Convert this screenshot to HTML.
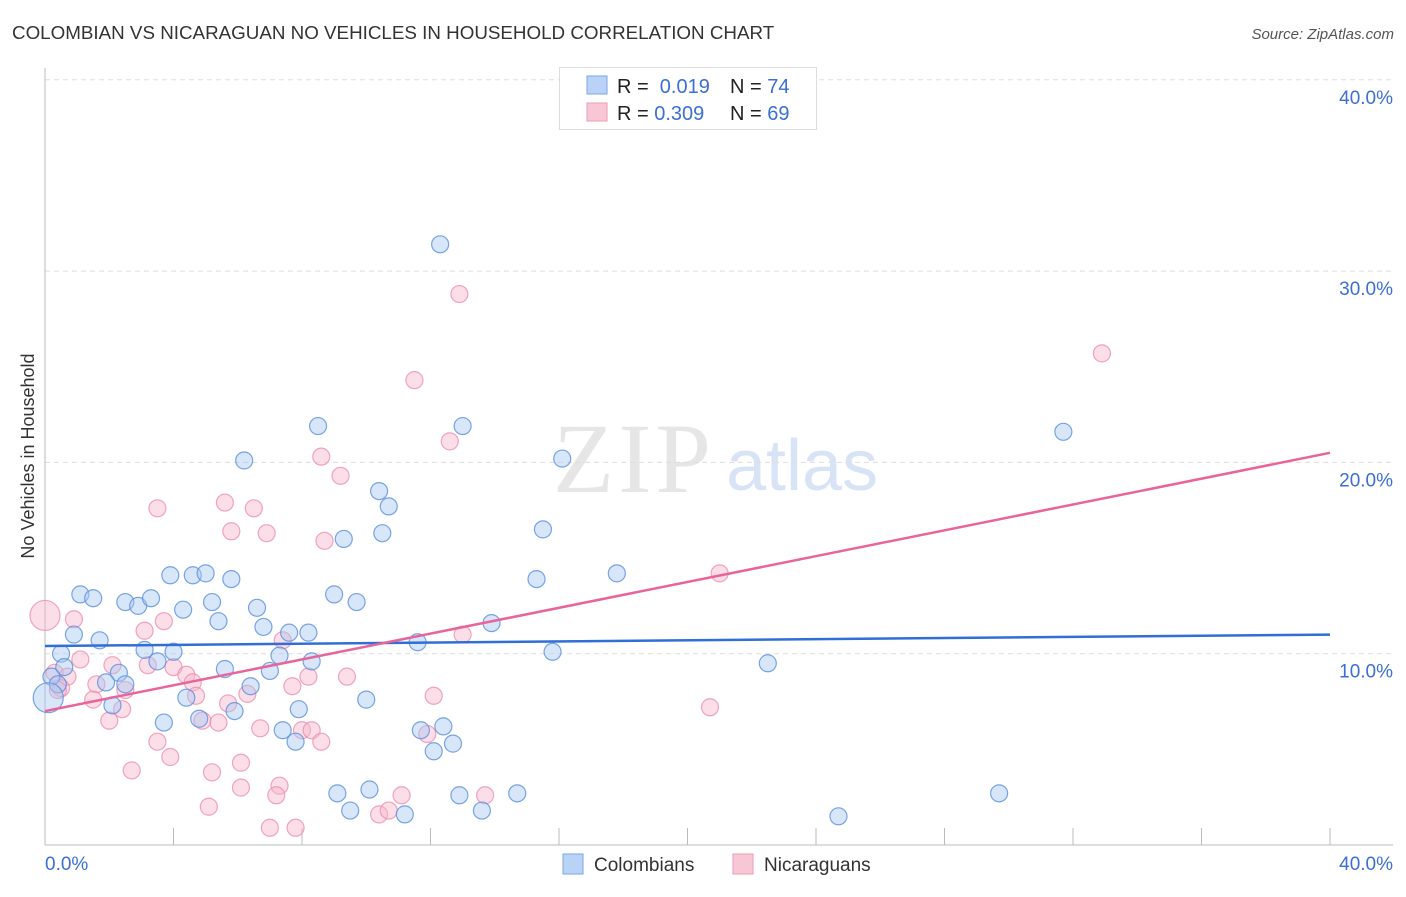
<!DOCTYPE html>
<html><head><meta charset="utf-8">
<style>
body{margin:0;background:#fff;font-family:"Liberation Sans",sans-serif;}
svg text{font-family:"Liberation Sans",sans-serif;}
</style></head>
<body>
<svg id="chart" width="1406" height="892" viewBox="0 0 1406 892">
<text x="12" y="39" font-size="18.8" fill="#333">COLOMBIAN VS NICARAGUAN NO VEHICLES IN HOUSEHOLD CORRELATION CHART</text>
<text x="1394" y="39" font-size="15" fill="#555" font-style="italic" text-anchor="end">Source: ZipAtlas.com</text>
<g>
<text x="634" y="492" font-size="100" fill="#e6e6e6" style="font-family:'Liberation Serif',serif" text-anchor="middle" letter-spacing="4">ZIP</text>
<text x="802" y="490" font-size="72" fill="#d8e4f6" text-anchor="middle">atlas</text>
</g>
<g id="grid"></g>
<g id="axes"></g>
<g id="marks"></g>
<text transform="translate(34,456) rotate(-90)" font-size="18" fill="#333" text-anchor="middle">No Vehicles in Household</text>
<g>
<rect x="559.5" y="67.5" width="257" height="62" fill="#fff" stroke="#ddd"/>
<rect x="587" y="76" width="20" height="18" fill="#b9d2f5" stroke="#7aa6e6"/>
<rect x="587" y="103" width="20" height="18" fill="#f9c6d5" stroke="#ee9ab5"/>
<text x="617" y="93" font-size="20" fill="#222">R = <tspan fill="#3b6fd4">&#160;0.019</tspan><tspan x="730">N = </tspan><tspan fill="#3b6fd4">74</tspan></text>
<text x="617" y="120" font-size="20" fill="#222">R = <tspan fill="#3b6fd4">0.309</tspan><tspan x="730">N = </tspan><tspan fill="#3b6fd4">69</tspan></text>
</g>
<g>
<rect x="563" y="854" width="20" height="20" fill="#b9d2f5" stroke="#7aa6e6"/>
<text x="594" y="871" font-size="19" fill="#333">Colombians</text>
<rect x="733" y="854" width="20" height="20" fill="#f9c6d5" stroke="#ee9ab5"/>
<text x="764" y="871" font-size="19" fill="#333">Nicaraguans</text>
</g>
</svg>
<script>
const yTicks=[10,20,30,40];
const yTickLabels=["10.0%","20.0%","30.0%","40.0%"];
const xTickLabels=["0.0%","40.0%"];
const blueX=[12.3,8.5,13.0,31.7,6.2,16.1,10.4,10.7,15.5,9.3,10.5,3.9,4.6,5.0,5.8,15.3,17.8,1.1,1.5,2.5,2.9,3.3,4.3,5.2,6.6,9.0,9.7,5.4,6.8,13.9,7.6,8.2,0.9,1.7,3.1,4.0,11.6,15.8,0.5,3.5,8.3,7.3,0.6,2.3,5.6,7.0,22.5,0.2,0.4,1.9,2.5,6.4,4.4,10.0,2.1,5.9,7.9,3.7,4.8,7.4,12.4,11.7,7.8,12.7,12.1,9.1,10.1,12.9,14.7,29.7,9.5,11.2,13.6,24.7,0.1];
const blueY=[31.4,21.9,21.9,21.6,20.1,20.2,18.5,17.7,16.5,16.0,16.3,14.1,14.1,14.2,13.9,13.9,14.2,13.1,12.9,12.7,12.5,12.9,12.3,12.7,12.4,13.1,12.7,11.7,11.4,11.6,11.1,11.1,11.0,10.7,10.2,10.1,10.6,10.1,10.0,9.6,9.6,9.9,9.3,9.0,9.2,9.1,9.5,8.8,8.4,8.5,8.4,8.3,7.7,7.6,7.3,7.0,7.1,6.4,6.6,6.0,6.2,6.0,5.4,5.3,4.9,2.7,2.9,2.6,2.7,2.7,1.8,1.6,1.8,1.5,7.7];
const pinkX=[12.9,32.9,11.5,12.6,8.6,9.2,3.5,5.6,6.5,5.8,6.9,8.7,21.0,0.9,3.1,3.7,13.0,7.4,0.0,1.1,2.1,3.2,4.0,0.3,0.7,1.6,4.4,2.5,0.5,4.6,8.2,7.7,9.4,1.5,4.7,6.3,5.7,2.4,12.1,20.7,2.0,5.4,4.9,6.7,8.0,8.3,8.6,11.9,3.5,3.9,2.7,5.2,6.1,7.3,6.1,7.2,5.1,11.1,13.7,10.4,10.7,7.0,7.8,0.4];
const pinkY=[28.8,25.7,24.3,21.1,20.3,19.3,17.6,17.9,17.6,16.4,16.3,15.9,14.2,11.8,11.2,11.7,11.0,10.7,12.0,9.7,9.4,9.4,9.3,9.0,8.8,8.4,8.9,8.1,8.2,8.5,8.8,8.3,8.8,7.6,7.8,7.9,7.4,7.1,7.8,7.2,6.5,6.4,6.5,6.1,6.0,6.0,5.4,5.8,5.4,4.6,3.9,3.8,4.3,3.1,3.0,2.6,2.0,2.6,2.6,1.6,1.8,0.9,0.9,8.1];
const blueTrend=[10.4,11.0];
const pinkTrend=[7.0,20.5];
const NS="http://www.w3.org/2000/svg";
const X0=45,X1=1330,Y0=845,YPER=19.13;
function xs(v){return X0+(v/40)*(X1-X0);}
function ys(v){return Y0-v*YPER;}
function mk(tag,attrs,parent){const e=document.createElementNS(NS,tag);for(const k in attrs)e.setAttribute(k,attrs[k]);parent.appendChild(e);return e;}
const grid=document.getElementById('grid'),axes=document.getElementById('axes'),marks=document.getElementById('marks');
yTicks.forEach((t,i)=>{
 const l=mk('line',{x1:X0,x2:1393,y1:ys(t),y2:ys(t),stroke:'#ddd','stroke-dasharray':'5,4'},grid);
 
 
 const tx=mk('text',{x:1393,y:ys(t)+24,'font-size':19,fill:'#3b6fd4','text-anchor':'end'},axes);
 tx.textContent=yTickLabels[i];
 
 
});
let ax=mk('line',{x1:X0,x2:X0,y1:68,y2:Y0,stroke:'#bbb'},axes);


ax=mk('line',{x1:X0,x2:1393,y1:Y0,y2:Y0,stroke:'#bbb'},axes);


for(let i=1;i<=10;i++){
 const t=mk('line',{x1:xs(i*4),x2:xs(i*4),y1:Y0,y2:828,stroke:'#bbb'},axes);
 
 
}
[[0,'start',45],[40,'end',1393]].forEach((d,i)=>{
 const t=mk('text',{x:d[2],y:870,'font-size':19,fill:'#3b6fd4','text-anchor':d[1]},axes);
 t.textContent=xTickLabels[i];
 
 
});
function pts(xa,ya,fill,stroke,name){
 xa.forEach((x,i)=>{
  let r=8.5;
  if(x<0.2) r=15;
  const c=mk('circle',{cx:xs(x),cy:ys(ya[i]),r:r,fill:fill,'fill-opacity':0.45,stroke:stroke,'stroke-opacity':0.8,'stroke-width':1.2},marks);
  
  
 });
}
pts(pinkX,pinkY,'#f7b6ca','#ee8fae','nicaraguan-point');
pts(blueX,blueY,'#a9c8f2','#5a8fdc','colombian-point');
let tl=mk('line',{x1:xs(0),y1:ys(blueTrend[0]),x2:xs(40),y2:ys(blueTrend[1]),stroke:'#2f6fd6','stroke-width':2.5},marks);


tl=mk('line',{x1:xs(0),y1:ys(pinkTrend[0]),x2:xs(40),y2:ys(pinkTrend[1]),stroke:'#e8649a','stroke-width':2.5},marks);


</script>
</body></html>
